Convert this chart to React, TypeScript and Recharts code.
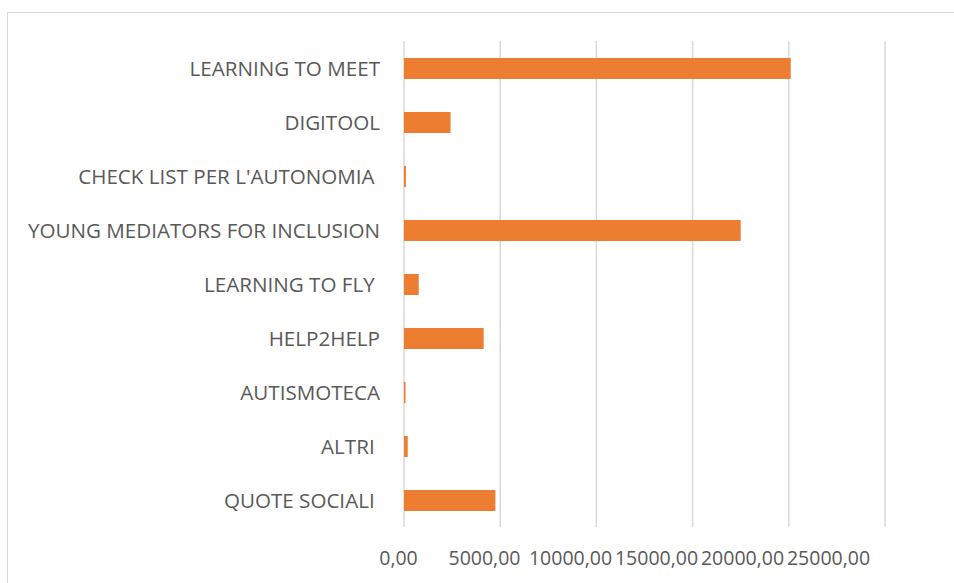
import { BarChart, Bar, XAxis, YAxis, CartesianGrid } from "recharts";

// categories top to bottom, values in euro
const projects = [
  "LEARNING TO MEET",
  "DIGITOOL",
  "CHECK LIST PER L'AUTONOMIA ",
  "YOUNG MEDIATORS FOR INCLUSION",
  "LEARNING TO FLY ",
  "HELP2HELP",
  "AUTISMOTECA",
  "ALTRI ",
  "QUOTE SOCIALI ",
];
const amounts = [20100, 2420, 100, 17500, 765, 4140, 80, 195, 4750];
const xTicks = [0, 5000, 10000, 15000, 20000, 25000];

const data = projects.map((name, i) => ({ name, value: amounts[i] }));

const TEXT = "#595959";
const FONT = "'Open Sans', sans-serif";

const fmt = (v: number) => v.toFixed(2).replace(".", ",");

const CategoryTick = ({ x, y, payload }: any) => (
  <text
    x={x}
    y={y}
    dy={7.5}
    textAnchor="end"
    fill={TEXT}
    fontSize={20.6}
    fontFamily={FONT}
    style={{ whiteSpace: "pre" }}
  >
    {payload.value}
  </text>
);

// labels sit a bit left of their grid lines in the original (squeezed photo)
const ValueTick = ({ x, y, payload }: any) => (
  <text
    x={398.5 + (x - 404) * (86 / 96.2)}
    y={y}
    dy={30}
    textAnchor="middle"
    fill={TEXT}
    fontSize={19.5}
    fontFamily={FONT}
  >
    {fmt(payload.value)}
  </text>
);

export default function App() {
  return (
    <div
      style={{
        position: "fixed",
        left: 0,
        top: 0,
        width: 954,
        height: 583,
        overflow: "hidden",
        background: "#fff",
      }}
    >
      {/* chart frame */}
      <div
        style={{
          position: "absolute",
          left: 7,
          top: 12,
          width: 980,
          height: 620,
          border: "1.5px solid #d9d9d9",
        }}
      />
      <div style={{ position: "absolute", left: 0, top: 0 }}>
        <BarChart
          width={954}
          height={583}
          data={data}
          layout="vertical"
          margin={{ top: 41, right: 69, bottom: 26, left: 0 }}
        >
          <CartesianGrid
            horizontal={false}
            stroke="#d9d9d9"
            strokeWidth={1.5}
          />
          <XAxis
            type="number"
            domain={[0, 25000]}
            ticks={xTicks}
            axisLine={false}
            tickLine={false}
            height={30}
            tick={<ValueTick />}
          />
          <YAxis
            type="category"
            dataKey="name"
            width={404}
            axisLine={false}
            tickLine={false}
            tickMargin={18}
            interval={0}
            tick={<CategoryTick />}
          />
          <Bar
            dataKey="value"
            fill="#ED7D31"
            barSize={21}
            isAnimationActive={false}
          />
        </BarChart>
      </div>
    </div>
  );
}
